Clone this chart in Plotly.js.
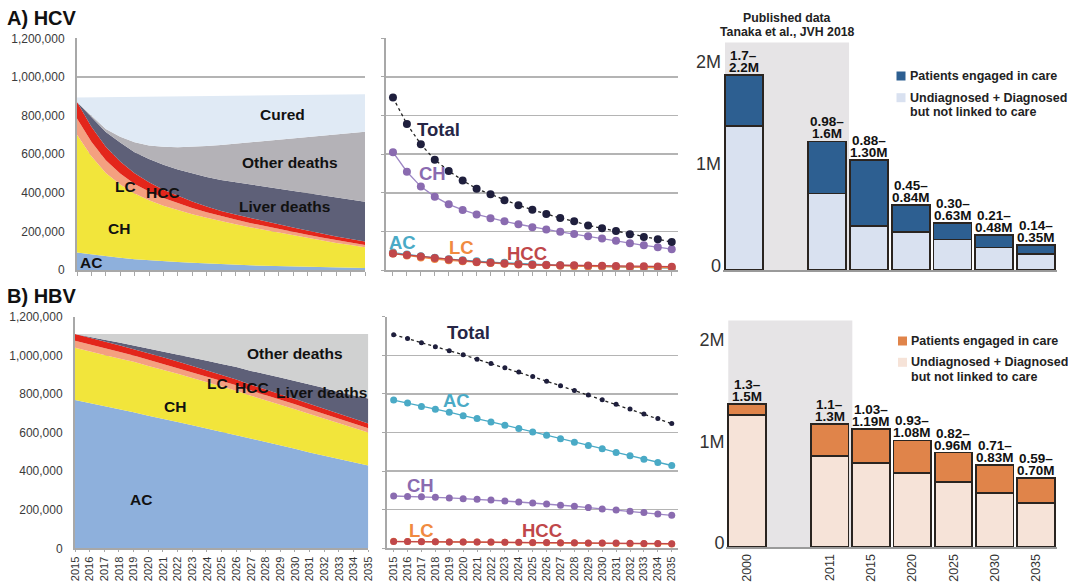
<!DOCTYPE html>
<html><head><meta charset="utf-8">
<script src="https://cdn.plot.ly/plotly-3.0.1.min.js"></script>
<style>html,body{margin:0;padding:0;background:#fff}#chart{width:1068px;height:583px}</style>
</head><body><div id="chart"></div>
<script>
// ---------- DATA (people, thousands) ----------
const years = [2015,2016,2017,2018,2019,2020,2021,2022,2023,2024,2025,2026,2027,2028,2029,2030,2031,2032,2033,2034,2035];
const yTickVals = [0,200,400,600,800,1000,1200];
const yTickText = ["0","200,000","400,000","600,000","800,000","1,000,000","1,200,000"];

// HCV
const hcvAC  = [90,80,71,63,56,50,45,41,37,33,30,27,24,22,20,18,16,14,12,11,10];
const hcvCH  = [610,509,432,380,340,311,288,268,252,237,222,210,198,186,175,163,151,139,128,118,108];
const hcvLC  = [85,75,65,57,50,45,40,36,32,29,26,24,22,20,19,17,16,15,14,13,12];
const hcvHCC = [85,78,70,62,55,48,42,38,34,30,27,26,25,24,23,22,21,20,19,18,17];
const hcvLiverDeaths = [0,48,77,98,109,121,130,137,145,153,161,168,175,180,183,188,193,198,202,204,207];
const hcvOtherDeaths = [0,10,15,30,52,70,93,116,138,160,181,199,217,236,255,274,292,310,328,346,362];
const hcvCured = [24,95,165,206,234,252,259,262,261,258,254,248,242,236,230,224,218,211,205,199,194];
const hcvTotal = [893,756,651,571,513,464,421,392,361,335,312,290,269,252,231,216,202,185,171,159,145];

// HBV
const hbvAC  = [768,753,735,720,705,687,672,655,638,621,603,586,567,550,533,516,497,480,461,444,429];
const hbvCH  = [271,269,267,264,261,257,254,250,245,240,235,230,223,218,211,204,199,192,185,178,171];
const hbvLC  = [36,35,35,34,33,33,32,31,31,30,29,29,28,27,26,26,25,24,23,23,22];
const hbvHCC = [35,35,34,34,33,33,32,32,31,31,30,30,29,29,28,27,27,26,25,25,24];
const hbvLiverDeaths = [0,5,10,14,19,24,30,36,42,50,58,65,72,80,87,94,101,108,115,122,130];
const hbvOtherDeaths = [0,13,29,44,59,76,90,106,123,138,155,170,191,206,225,243,261,280,301,318,334];
const hbvTotal = [1107,1087,1065,1044,1023,1003,979,957,936,914,890,866,842,818,794,770,746,722,696,672,646];

// Bars (millions)
const barYears = ["2000","2011","2015","2020","2025","2030","2035"];
const hcvUndiag  = [1.41,0.75,0.43,0.37,0.30,0.22,0.155];
const hcvEngaged = [0.50,0.51,0.65,0.27,0.16,0.12,0.09];
const hcvRangeLow  = ["1.7–","0.98–","0.88–","0.45–","0.30–","0.21–","0.14–"];
const hcvRangeHigh = ["2.2M","1.6M","1.30M","0.84M","0.63M","0.48M","0.35M"];
const hbvUndiag  = [1.30,0.90,0.83,0.73,0.64,0.535,0.43];
const hbvEngaged = [0.11,0.31,0.33,0.32,0.29,0.275,0.25];
const hbvRangeLow  = ["1.3–","1.1–","1.03–","0.93–","0.82–","0.71–","0.59–"];
const hbvRangeHigh = ["1.5M","1.3M","1.19M","1.08M","0.96M","0.83M","0.70M"];

// ---------- STYLE ----------
const C = {
  ac:'#8eb0dc', ch:'#f2e53b', lc:'#f4a080', hcc:'#e3261b', liver:'#5e6078',
  otherA:'#b4b2b7', otherB:'#d0d1d1', cured:'#e0eaf5',
  lAC:'#4aaac6', lCH:'#8a6bb0', lLC:'#f08a40', lHCC:'#c0474a', lTot:'#1f1f3d',
  engA:'#2d5f91', undA:'#d9e1f0', engB:'#e0844a', undB:'#f6e3d8'
};
const FONT = 'Liberation Sans, Arial, Helvetica, sans-serif';
const axisGray = '#a8a8a8';

// bar slots: one empty slot between 2000 and 2011
const barSlots = [0,2,3,4,5,6,7];

const traces = [];
function area(xa, ya, y, color, name){
  traces.push({type:'scatter', x:years, y:y, xaxis:xa, yaxis:ya, stackgroup:'s'+xa,
    mode:'lines', line:{width:0, color:color}, fillcolor:color, name:name, showlegend:false, hoverinfo:'skip'});
}
function line(xa, ya, y, color, size, lineColor, dash){
  traces.push({type:'scatter', x:years, y:y, xaxis:xa, yaxis:ya, mode:'lines+markers',
    line:{color:lineColor||color, width:1.3, dash:dash||'solid'},
    marker:{color:color, size:size}, showlegend:false, hoverinfo:'skip'});
}
function bars(xa, ya, und, eng, cu, ce){
  traces.push({type:'bar', x:barSlots, y:und, xaxis:xa, yaxis:ya, width:0.91,
    marker:{color:cu, line:{color:'#2a2420', width:1.8}}, showlegend:false, hoverinfo:'skip'});
  traces.push({type:'bar', x:barSlots, y:eng, xaxis:xa, yaxis:ya, width:0.91,
    marker:{color:ce, line:{color:'#2a2420', width:1.8}}, showlegend:false, hoverinfo:'skip'});
}

// A left stacked
area('x','y',hcvAC,C.ac,'AC');
area('x','y',hcvCH,C.ch,'CH');
area('x','y',hcvLC,C.lc,'LC');
area('x','y',hcvHCC,C.hcc,'HCC');
area('x','y',hcvLiverDeaths,C.liver,'Liver deaths');
area('x','y',hcvOtherDeaths,C.otherA,'Other deaths');
area('x','y',hcvCured,C.cured,'Cured');
// A middle lines
line('x2','y2',hcvAC,C.lAC,8);
line('x2','y2',hcvLC,C.lLC,8);
line('x2','y2',hcvHCC,C.lHCC,8);
line('x2','y2',hcvCH,C.lCH,8,'#9d86c4');
line('x2','y2',hcvTotal,C.lTot,8,'#222','dot');
// A bars
bars('x3','y3',hcvUndiag,hcvEngaged,C.undA,C.engA);

// B left stacked
area('x4','y4',hbvAC,C.ac,'AC');
area('x4','y4',hbvCH,C.ch,'CH');
area('x4','y4',hbvLC,C.lc,'LC');
area('x4','y4',hbvHCC,C.hcc,'HCC');
area('x4','y4',hbvLiverDeaths,C.liver,'Liver deaths');
area('x4','y4',hbvOtherDeaths,C.otherB,'Other deaths');
// B middle
line('x5','y5',hbvLC,C.lLC,7);
line('x5','y5',hbvHCC,C.lHCC,7);
line('x5','y5',hbvCH,C.lCH,7,'#9d86c4');
line('x5','y5',hbvAC,C.lAC,7);
line('x5','y5',hbvTotal,C.lTot,5,'#222','dot');
// B bars
bars('x6','y6',hbvUndiag,hbvEngaged,C.undB,C.engB);

// ---------- AXES ----------
const W = 1068, H = 583;
const px = v => v / W;
const py = v => 1 - v / H;

function leftY(d){ return {domain:d, range:[0,1200], tickvals:yTickVals, ticktext:yTickText,
  showgrid:true, gridcolor:'#b4b4b4', gridwidth:1.5, showline:true, linecolor:axisGray, linewidth:2,
  zeroline:false, ticks:'', tickfont:{size:12, color:'#3a3a3a'}, ticklabelstandoff:8, fixedrange:true}; }
function midY(d){ return {domain:d, range:[0,1200], tickvals:yTickVals, showticklabels:false,
  showgrid:true, gridcolor:'#b4b4b4', gridwidth:1.5, showline:true, linecolor:axisGray, linewidth:2,
  zeroline:false, ticks:'outside', ticklen:3, tickcolor:axisGray}; }
function yearX(d, r, labels){ return {domain:d, range:r, tick0:2015, dtick:1, ticks:'outside', ticklen:labels?2:4,
  tickcolor:axisGray, tickwidth:1, showline:true, linecolor:axisGray, linewidth:2, showgrid:false,
  zeroline:false, showticklabels:labels, tickangle:-90, tickfont:{size:11, color:'#333'}, ticklabelstandoff:0}; }
function barX(d, labels){ return {domain:d, range:[-0.5,7.5], tickvals:barSlots, ticktext:barYears,
  showticklabels:labels, tickangle:-90, tickfont:{size:12.5, color:'#333'}, ticks:'', showline:true,
  linecolor:'#9a9a9a', linewidth:2, showgrid:false, zeroline:false, ticklabelstandoff:0}; }
function barY(d, top){ return {domain:d, range:[0,top], tickvals:[0,1,2], ticktext:['0','1M','2M'],
  showgrid:false, zeroline:false, showline:false, ticks:'', tickfont:{size:18, color:'#333'},
  ticklabelshift:-4, ticklabelstandoff:1}; }

const yA = [py(270), py(38.3)];
const yB = [py(548.3), py(316.7)];
const layout = {
  width:W, height:H, margin:{l:0,r:0,t:0,b:0}, paper_bgcolor:'#fff', plot_bgcolor:'rgba(0,0,0,0)',
  font:{family:FONT, color:'#222'}, showlegend:false, hovermode:false, barmode:'stack',
  xaxis: yearX([px(77), px(365)], [2015,2035], false),
  yaxis: Object.assign(leftY(yA), {anchor:'x'}),
  xaxis2: Object.assign(yearX([px(386), px(678)], [2014.5,2035.45], false), {anchor:'y2'}),
  yaxis2: Object.assign(midY(yA), {anchor:'x2'}),
  xaxis3: Object.assign(barX([px(723.1), px(1056.8)], false), {anchor:'y3'}),
  yaxis3: Object.assign(barY([py(270), py(31)], 2.343), {anchor:'x3'}),
  xaxis4: Object.assign(yearX([px(75), px(368.3)], [2015,2035], true), {anchor:'y4'}),
  yaxis4: Object.assign(leftY(yB), {anchor:'x4'}),
  xaxis5: Object.assign(yearX([px(386.7), px(678)], [2014.5,2035.45], true), {anchor:'y5'}),
  yaxis5: Object.assign(midY(yB), {anchor:'x5'}),
  xaxis6: Object.assign(barX([px(726.4), px(1056.7)], true), {anchor:'y6'}),
  yaxis6: Object.assign(barY([py(547), py(313.5)], 2.3), {anchor:'x6'}),
  shapes:[], annotations:[]
};

// grey "published data" backgrounds
layout.shapes.push({type:'rect', xref:'x3', yref:'y3', x0:-0.455, x1:2.52, y0:0, y1:2.23, fillcolor:'#e6e4e6', line:{width:0}, layer:'below'});
layout.shapes.push({type:'rect', xref:'x6', yref:'y6', x0:-0.455, x1:2.55, y0:0, y1:2.23, fillcolor:'#e6e4e6', line:{width:0}, layer:'below'});

function ann(text, xref, yref, x, y, color, size, opts){
  layout.annotations.push(Object.assign({text:text, xref:xref, yref:yref, x:x, y:y, showarrow:false,
    font:{family:FONT, size:size, color:color, weight:'bold'}, xanchor:'center', yanchor:'middle', borderpad:0}, opts||{}));
}

// Panel titles
ann('A) HCV','paper','paper',px(6),py(18),'#111',20,{xanchor:'left'});
ann('B) HBV','paper','paper',px(6),py(296),'#111',20,{xanchor:'left'});

// A left labels
ann('Cured','x','y',2029.3,803,'#111',15.5);
ann('Other deaths','x','y',2029.8,559,'#111',15.5);
ann('Liver deaths','x','y',2029.4,331,'#111',15.5);
ann('LC','x','y',2018.4,435,'#111',15.5);
ann('HCC','x','y',2021.0,399,'#111',15.5);
ann('CH','x','y',2017.9,217,'#111',15.5);
ann('AC','x','y',2016.0,41,'#111',15.5);
// A middle labels
ann('Total','x2','y2',2018.3,730,'#262646',18.5);
ann('CH','x2','y2',2017.8,502,C.lCH,18.5);
ann('AC','x2','y2',2015.7,140,C.lAC,18.5);
ann('LC','x2','y2',2019.9,119,C.lLC,18.5);
ann('HCC','x2','y2',2024.6,88,C.lHCC,18.5);
// B left labels
ann('Other deaths','x4','y4',2030.0,1011,'#111',15.5);
ann('LC','x4','y4',2024.75,856,'#111',15.5);
ann('HCC','x4','y4',2027.1,835,'#111',15.5);
ann('Liver deaths','x4','y4',2031.8,809,'#111',15.5);
ann('CH','x4','y4',2021.8,737,'#111',15.5);
ann('AC','x4','y4',2019.5,255,'#111',15.5);
// B middle labels
ann('Total','x5','y5',2020.4,1116,'#262646',18.5);
ann('AC','x5','y5',2019.5,764,C.lAC,18.5);
ann('CH','x5','y5',2016.9,324,C.lCH,18.5);
ann('LC','x5','y5',2017.0,91,C.lLC,18.5);
ann('HCC','x5','y5',2025.7,91,C.lHCC,18.5);

// Bar range labels
function rangeLabels(xref, yref, und, eng, lo, hi){
  barSlots.forEach((s,i)=>{
    const top = und[i] + eng[i];
    ann(hi[i], xref, yref, s, top, '#111', 13.5, {yanchor:'bottom', yshift:-1});
    ann(lo[i], xref, yref, s, top, '#111', 13.5, {yanchor:'bottom', yshift:11});
  });
}
rangeLabels('x3','y3',hcvUndiag,hcvEngaged,hcvRangeLow,hcvRangeHigh);
rangeLabels('x6','y6',hbvUndiag,hbvEngaged,hbvRangeLow,hbvRangeHigh);

// Published data note
ann('Published data','paper','paper',px(787),py(18.3),'#222',12.3,{});
ann('Tanaka et al., JVH 2018','paper','paper',px(787),py(31.7),'#222',12.3,{});

// Legends (custom)
function legendBox(cx, cy, color){
  layout.shapes.push({type:'rect', xref:'paper', yref:'paper', x0:px(cx-4.5), x1:px(cx+4.5),
    y0:py(cy+4.5), y1:py(cy-4.5), fillcolor:color, line:{width:0}});
}
function legendText(x, y, t){ ann(t,'paper','paper',px(x),py(y),'#222',12.5,{xanchor:'left'}); }
legendBox(901, 76, C.engA); legendText(909, 76, 'Patients engaged in care');
legendBox(901, 97.7, C.undA); legendText(909, 97.7, 'Undiagnosed + Diagnosed'); legendText(909, 112, 'but not linked to care');
legendBox(902.5, 341, C.engB); legendText(910.5, 341, 'Patients engaged in care');
legendBox(902.5, 362.3, C.undB); legendText(910.5, 362.3, 'Undiagnosed + Diagnosed'); legendText(910.5, 377.3, 'but not linked to care');

Plotly.newPlot('chart', traces, layout, {staticPlot:true, displayModeBar:false});
</script>
</body></html>
